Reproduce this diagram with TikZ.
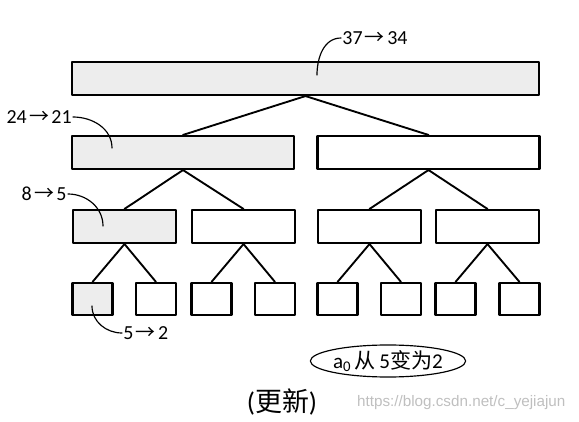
\documentclass[tikz,border=0pt]{standalone}
\usepackage{fontspec}
\setmainfont{Carlito}
\newfontfamily\cjk{Noto Sans CJK SC}
\newfontfamily\wmfont{Liberation Sans}
\usetikzlibrary{shapes.geometric}
\tikzset{
  seg/.style={draw,line width=1.8pt,fill=white,inner sep=0pt,minimum height=0.99cm},
  hit/.style={seg,fill=black!7},
  lbl/.style={font=\fontsize{17}{20}\selectfont,inner sep=1pt},
  lead/.style={line width=1pt}
}
\newcommand\arr{\hspace{0.12em}{\cjk →}\hspace{0.12em}}

\begin{document}
\begin{tikzpicture}[x=0.03cm,y=-0.03cm,line cap=round,line join=round]
\useasboundingbox (0,0) rectangle (579,422);
% segment tree
\node[hit,minimum width=14.01cm] (root) at (305.5,78.5) {};
\node[hit,minimum width=6.66cm] (l2a) at (183,152.5) {};
\node[seg,minimum width=6.66cm] (l2b) at (428.5,152.5) {};
\foreach \n/\x/\s in {a/124.5/hit,b/243.5/seg,c/369.5/seg,d/487.5/seg}
  \node[\s,minimum width=3.09cm] (l3\n) at (\x,226.5) {};
\foreach \n/\x/\s in {a/92.5/hit,b/156/seg,c/211.5/seg,d/275/seg,e/337.5/seg,f/401/seg,g/455.5/seg,h/519.5/seg}
  \node[\s,minimum width=1.2cm,minimum height=0.96cm] (l4\n) at (\x,299) {};
\foreach \p/\c in {root/l2a,root/l2b,l2a/l3a,l2a/l3b,l2b/l3c,l2b/l3d,
    l3a/l4a,l3a/l4b,l3b/l4c,l3b/l4d,l3c/l4e,l3c/l4f,l3d/l4g,l3d/l4h}
  \draw[line width=1.6pt] (\p.south)--(\c.north);
% changed values
\node[lbl,anchor=west] (t1) at (341,38) {37\arr34};
\coordinate (e1) at (317,75);
\draw[lead] (t1.west) to[out=180,in=90] (e1);
\node[lbl,anchor=east] (t2) at (73,117) {24\arr21};
\coordinate (e2) at (112,148);
\draw[lead] (t2.east) to[out=0,in=90] (e2);
\node[lbl,anchor=east] (t3) at (68,194) {8\arr5};
\coordinate (e3) at (103,226);
\draw[lead] (t3.east) to[out=0,in=90] (e3);
\node[lbl,anchor=west] (t4) at (122,333) {5\arr2};
\coordinate (e4) at (92,306);
\draw[lead] (t4.west) to[out=180,in=-90] (e4);
% caption
\node[ellipse,draw,line width=1pt,minimum width=4.32cm,minimum height=0.96cm,inner sep=0pt,
  font=\fontsize{18}{21}\selectfont] (note) at (388,361)
  {a\textsubscript{0}\,{\cjk 从}\,5{\cjk 变为}2};
\node[font=\fontsize{23}{26}\selectfont] (upd) at (282,402) {({\cjk 更新})};
\node[font=\wmfont\fontsize{13}{15}\selectfont,text=black!25,anchor=west] (wm) at (353,403)
  {https://blog.csdn.net/c\_yejiajun};
\end{tikzpicture}
\end{document}
